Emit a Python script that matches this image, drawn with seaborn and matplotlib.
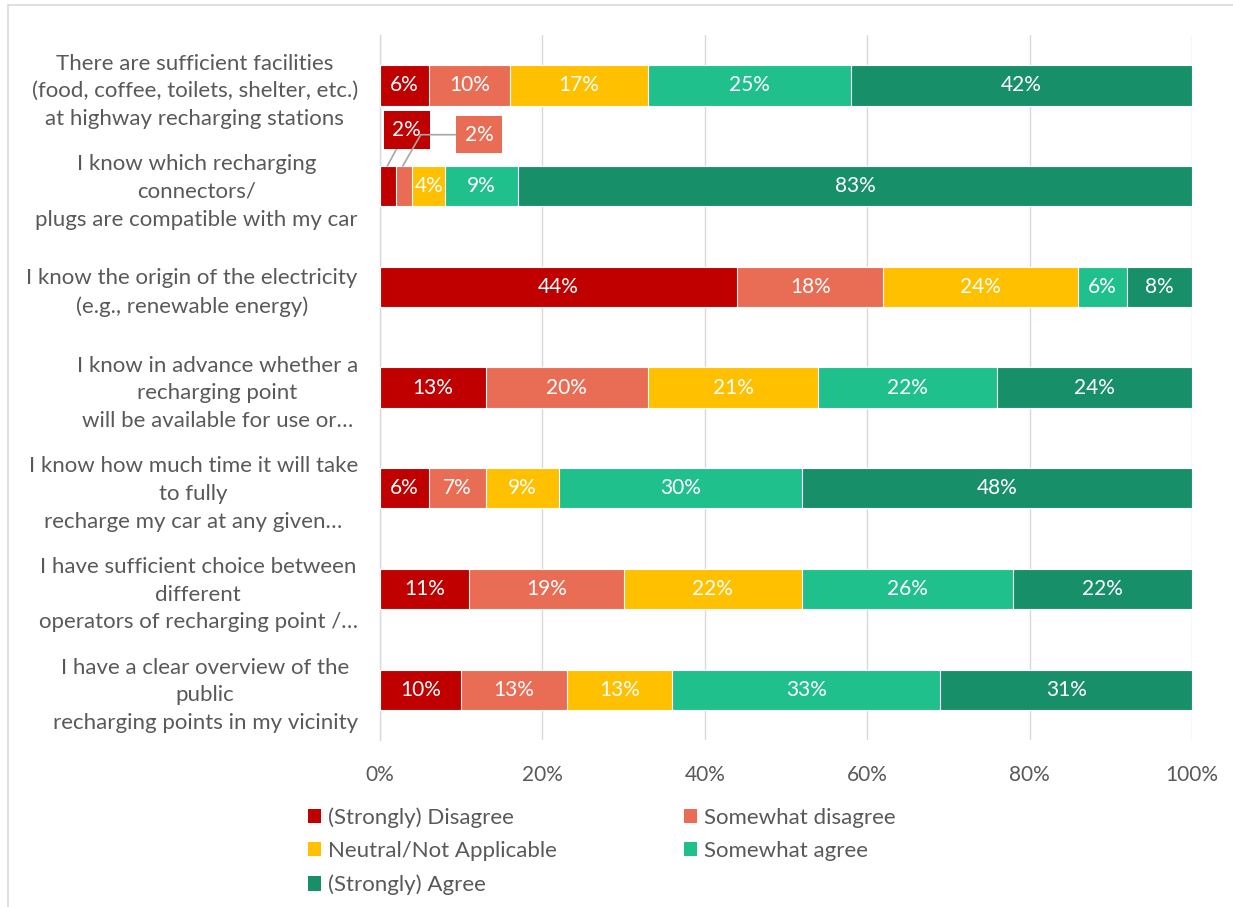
import matplotlib
matplotlib.use("Agg")
import matplotlib.pyplot as plt
import seaborn as sns
import numpy as np
import pandas as pd
from matplotlib.patches import Patch
from matplotlib.lines import Line2D

categories = [
    "There are sufficient facilities\n(food, coffee, toilets, shelter, etc.)\nat highway recharging stations",
    "I know which recharging\nconnectors/\nplugs are compatible with my car",
    "I know the origin of the electricity\n(e.g., renewable energy)",
    "I know in advance whether a\nrecharging point\nwill be available for use or…",
    "I know how much time it will take\nto fully\nrecharge my car at any given…",
    "I have sufficient choice between\ndifferent\noperators of recharging point /…",
    "I have a clear overview of the\npublic\nrecharging points in my vicinity",
]
series_names = ["(Strongly) Disagree", "Somewhat disagree", "Neutral/Not Applicable",
                "Somewhat agree", "(Strongly) Agree"]
strongly_disagree = [6, 2, 44, 13, 6, 11, 10]
somewhat_disagree = [10, 2, 18, 20, 7, 19, 13]
neutral = [17, 4, 24, 21, 9, 22, 13]
somewhat_agree = [25, 9, 6, 22, 30, 26, 33]
strongly_agree = [42, 83, 8, 24, 48, 22, 31]
xticks = [0, 20, 40, 60, 80, 100]
xtick_labels = ["0%", "20%", "40%", "60%", "80%", "100%"]

colors = ["#C00000", "#E96C55", "#FFC000", "#20C08C", "#178F68"]
text_color = "#595959"

sns.set_theme(style="white")
plt.rcParams["font.family"] = ["Lato", "DejaVu Sans"]

fig = plt.figure(figsize=(12.33, 9.07), dpi=100)
ax = fig.add_axes([380/1233, 1-740/907, 812/1233, 705/907])

values = np.array([strongly_disagree, somewhat_disagree, neutral, somewhat_agree, strongly_agree], dtype=float)
cum = np.cumsum(values, axis=0)

for i in reversed(range(5)):
    df = pd.DataFrame({"cat": categories, "val": cum[i]})
    sns.barplot(data=df, x="val", y="cat", orient="h", color=colors[i], width=0.4,
                edgecolor="white", linewidth=0.8, ax=ax, saturation=1, zorder=3)

# segment labels
for i in range(5):
    for j in range(len(categories)):
        v = values[i, j]
        if categories[j].startswith("I know which") and i < 2:
            continue
        center = cum[i, j] - v/2
        ax.text(center, j, f"{int(v)}%", ha="center", va="center", color="white",
                fontsize=15, zorder=5)

# callouts for the small segments of the second bar
j = 1
ax.annotate(f"{int(values[0, j])}%", xy=(cum[0, j]-values[0, j]/2 - 0.1, j - 0.2),
            xytext=(3.3, 0.445), ha="center", va="center", color="white", fontsize=15,
            bbox=dict(boxstyle="square,pad=0.42", fc=colors[0], ec="none"),
            arrowprops=dict(arrowstyle="-", color="#A6A6A6", lw=1.2, shrinkA=0, shrinkB=0),
            zorder=6)
ax.annotate(f"{int(values[1, j])}%", xy=(cum[1, j]-values[1, j]/2 - 0.2, j - 0.2),
            xytext=(12.2, 0.49), ha="center", va="center", color="white", fontsize=15,
            bbox=dict(boxstyle="square,pad=0.42", fc=colors[1], ec="none"),
            arrowprops=dict(arrowstyle="-", color="#A6A6A6", lw=1.2, shrinkA=0, shrinkB=0,
                            connectionstyle="angle,angleA=0,angleB=60"),
            zorder=6)

ax.set_xlim(0, 100)
ax.set_ylim(6.5, -0.5)
ax.set_xticks(xticks)
ax.set_xticklabels(xtick_labels)
ax.set_xlabel("")
ax.set_ylabel("")
ax.grid(axis="x", color="#D9D9D9", lw=1, zorder=0)
ax.set_axisbelow(True)
for s in ["top", "right", "bottom"]:
    ax.spines[s].set_visible(False)
ax.spines["left"].set_color("#D9D9D9")
ax.spines["left"].set_linewidth(1)
ax.tick_params(axis="x", colors=text_color, labelsize=15, length=0, pad=18)
ax.tick_params(axis="y", colors=text_color, labelsize=16, length=0, pad=16)
for lab in ax.get_yticklabels():
    lab.set_multialignment("center")
    lab.set_linespacing(1.48)
    lab.set_color(text_color)

handles = [Patch(facecolor=c, edgecolor="none", label=n) for c, n in zip(colors, series_names)]
order = [0, 2, 4, 1, 3]
leg = fig.legend([handles[k] for k in order], [series_names[k] for k in order],
                 loc="upper left", bbox_to_anchor=(308/1233, 1-807/907), ncol=2,
                 frameon=False, fontsize=16, handlelength=0.6, handleheight=0.6,
                 handletextpad=0.3, columnspacing=5.7, labelspacing=0.61,
                 borderpad=0, borderaxespad=0, labelcolor=text_color)

# outer frame
fig.add_artist(Line2D([8/1233, 8/1233], [0, 1-5/907], color="#D9D9D9", lw=1.2, transform=fig.transFigure))
fig.add_artist(Line2D([8/1233, 1], [1-5/907, 1-5/907], color="#D9D9D9", lw=1.2, transform=fig.transFigure))

fig.savefig("out.png", dpi=100)
